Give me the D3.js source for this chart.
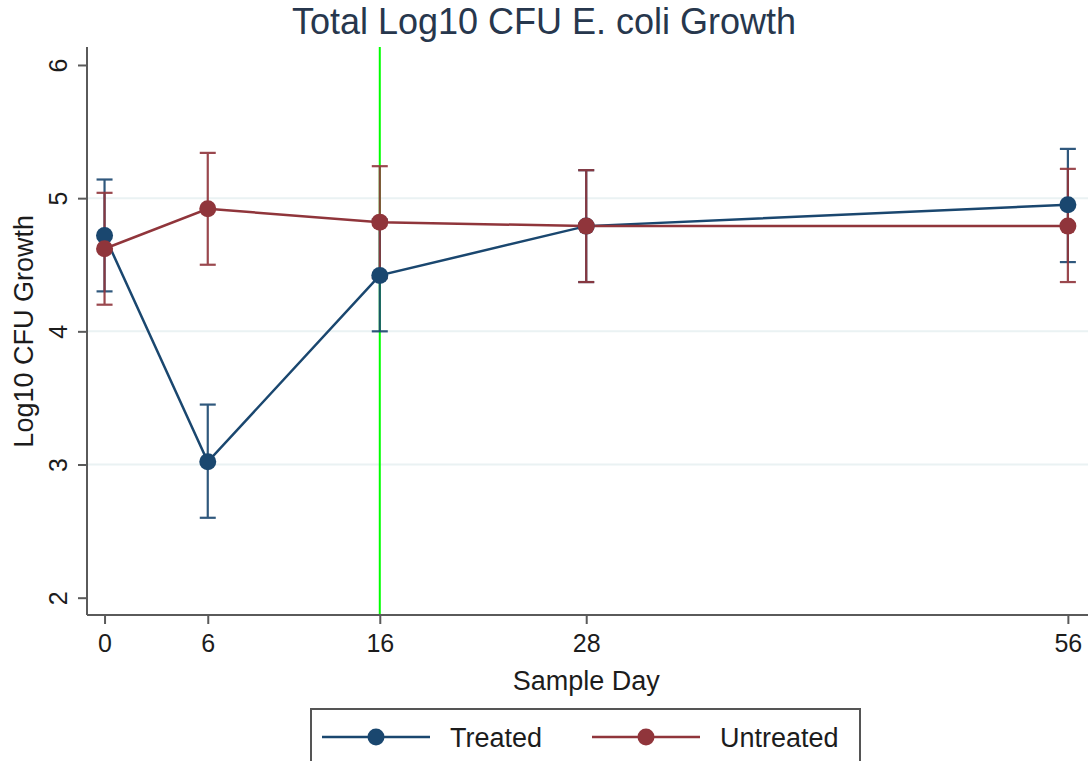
<!DOCTYPE html>
<html>
<head>
<meta charset="utf-8">
<script src="https://cdn.jsdelivr.net/npm/d3@7"></script>
<style>
  body { margin: 0; background: #fff; }
  svg { display: block; font-family: "Liberation Sans", Arial, sans-serif; }
</style>
</head>
<body>
<svg id="chart" width="1088" height="761"></svg>
<script>
// Sample days and values
var days = [0, 6, 16, 28, 56];
var treatedMean  = [4.72, 3.02, 4.42, 4.79, 4.95];
var treatedLow   = [4.30, 2.60, 4.00, 4.37, 4.52];
var treatedHigh  = [5.14, 3.45, 4.84, 5.21, 5.37];
var untreatedMean = [4.62, 4.92, 4.82, 4.79, 4.79];
var untreatedLow  = [4.20, 4.50, 4.40, 4.37, 4.37];
var untreatedHigh = [5.04, 5.34, 5.24, 5.21, 5.22];
var yTicks = [2, 3, 4, 5, 6];
var refDay = 16;

var series = [
    { name: "Treated", color: "#1a476f", mean: treatedMean, low: treatedLow, high: treatedHigh },
    { name: "Untreated", color: "#90353b", mean: untreatedMean, low: untreatedLow, high: untreatedHigh }
];

var svg = d3.select("#chart"),
    margin = {top: 47, right: 0, bottom: 146, left: 87},
    width = +svg.attr("width") - margin.left - margin.right,
    height = +svg.attr("height") - margin.top - margin.bottom;

var x = d3.scaleLinear().domain([-1.02, 57.17]).range([0, width]),
    y = d3.scaleLinear().domain([1.87, 6.135]).range([height, 0]);

var g = svg.append("g")
    .attr("transform", "translate(" + margin.left + "," + margin.top + ")");

// grid lines at interior ticks
g.selectAll(".grid")
    .data(yTicks.slice(1, -1))
    .enter().append("line")
    .attr("x1", 0).attr("x2", width)
    .attr("y1", function(d) { return y(d); })
    .attr("y2", function(d) { return y(d); })
    .attr("stroke", "#eaf2f3")
    .attr("stroke-width", 2);

// vertical reference line
g.append("line")
    .attr("x1", x(refDay)).attr("x2", x(refDay))
    .attr("y1", 0).attr("y2", height)
    .attr("stroke", "#00ff00")
    .attr("stroke-width", 2);

// axes
var xAxis = g.append("g")
    .attr("transform", "translate(0," + height + ")")
    .call(d3.axisBottom(x).tickValues(days).tickSize(9).tickPadding(10).tickSizeOuter(0));

var yAxis = g.append("g")
    .call(d3.axisLeft(y).tickValues(yTicks).tickFormat(d3.format("d")).tickSize(9).tickPadding(8).tickSizeOuter(0));

[xAxis, yAxis].forEach(function(a) {
    a.select(".domain").attr("stroke", "#5a5a5a").attr("stroke-width", 2);
    a.selectAll(".tick line").attr("stroke", "#5a5a5a").attr("stroke-width", 2);
    a.selectAll("text").attr("fill", "#1c1c1c").style("font-size", "25px")
        .style("font-family", "'Liberation Sans', Arial, sans-serif");
});
xAxis.select(".domain").attr("d", "M0,0H" + width);
yAxis.select(".domain").attr("d", "M0,0V" + height);

yAxis.selectAll(".tick text")
    .attr("x", 0).attr("dy", 0)
    .attr("text-anchor", "middle")
    .attr("transform", "translate(-20,0) rotate(-90)");

// error bars
series.forEach(function(s) {
    var eb = g.append("g").attr("stroke", s.color).attr("stroke-width", 2.2).attr("opacity", 0.9);
    days.forEach(function(d, i) {
        eb.append("line")
            .attr("x1", x(d)).attr("x2", x(d))
            .attr("y1", y(s.low[i])).attr("y2", y(s.high[i]));
        [s.low[i], s.high[i]].forEach(function(v) {
            eb.append("line")
                .attr("x1", x(d) - 8).attr("x2", x(d) + 8)
                .attr("y1", y(v)).attr("y2", y(v));
        });
    });
});

var line = d3.line()
    .x(function(d, i) { return x(days[i]); })
    .y(function(d) { return y(d); });

series.forEach(function(s) {
    g.append("path")
        .datum(s.mean)
        .attr("d", line)
        .attr("fill", "none")
        .attr("stroke", s.color)
        .attr("stroke-width", 2.5);
});

series.forEach(function(s) {
    g.selectAll(null)
        .data(s.mean)
        .enter().append("circle")
        .attr("cx", function(d, i) { return x(days[i]); })
        .attr("cy", function(d) { return y(d); })
        .attr("r", 8.5)
        .attr("fill", s.color);
});

// titles
svg.append("text")
    .attr("x", 544).attr("y", 34)
    .attr("text-anchor", "middle")
    .attr("fill", "#27374d")
    .style("font-size", "36px")
    .text("Total Log10 CFU E. coli Growth");

svg.append("text")
    .attr("x", margin.left + x(28)).attr("y", 690)
    .attr("text-anchor", "middle")
    .attr("fill", "#1c1c1c")
    .style("font-size", "27px")
    .text("Sample Day");

svg.append("text")
    .attr("transform", "translate(33," + (margin.top + y(4)) + ") rotate(-90)")
    .attr("text-anchor", "middle")
    .attr("fill", "#1c1c1c")
    .style("font-size", "27px")
    .text("Log10 CFU Growth");

// legend
var legend = svg.append("g").attr("transform", "translate(311,709)");
legend.append("rect")
    .attr("x", 0).attr("y", 0)
    .attr("width", 549).attr("height", 70)
    .attr("fill", "#fff")
    .attr("stroke", "#555")
    .attr("stroke-width", 2);

var items = legend.selectAll(".item")
    .data(series)
    .enter().append("g")
    .attr("transform", function(d, i) { return "translate(" + (11 + i * 270) + ",28)"; });

items.append("line")
    .attr("x1", 0).attr("x2", 108)
    .attr("stroke", function(d) { return d.color; })
    .attr("stroke-width", 2.5);
items.append("circle")
    .attr("cx", 54).attr("r", 8.5)
    .attr("fill", function(d) { return d.color; });
items.append("text")
    .attr("x", 128).attr("y", 10)
    .attr("fill", "#1c1c1c")
    .style("font-size", "27px")
    .text(function(d) { return d.name; });
</script>
</body>
</html>
